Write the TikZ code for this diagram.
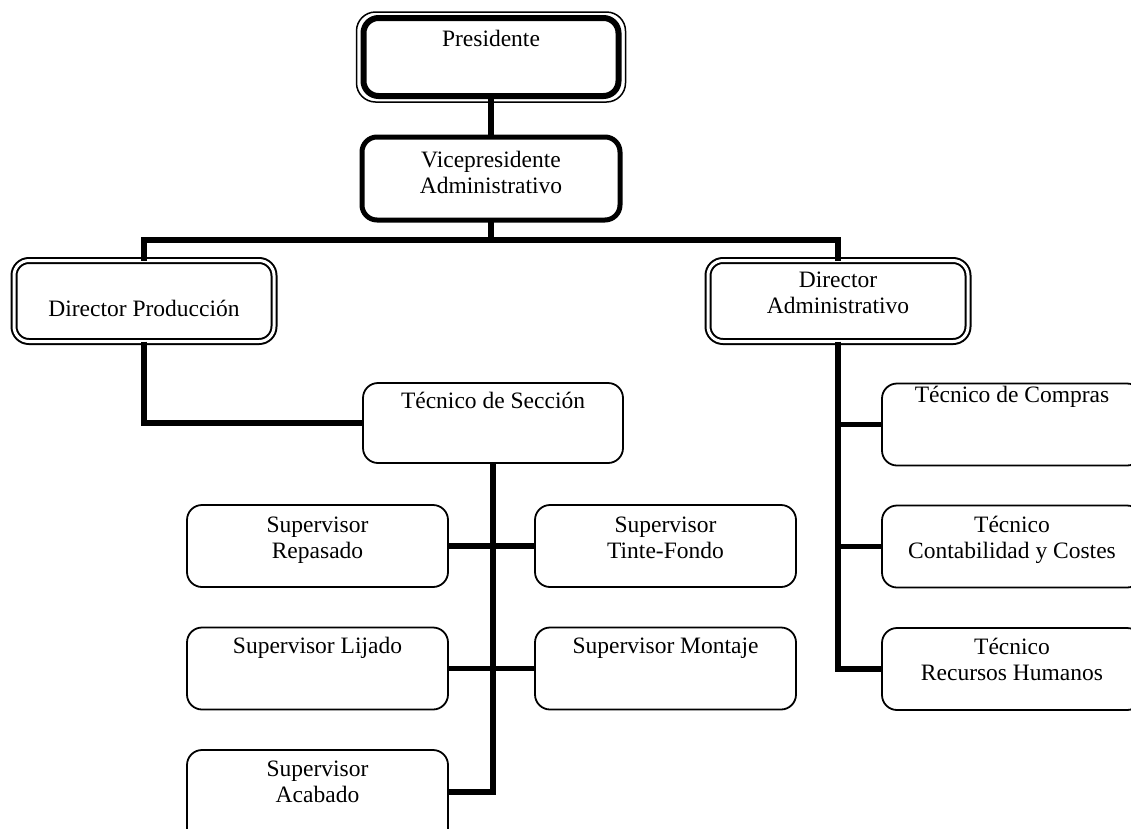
\documentclass[tikz,border=0pt]{standalone}
\usepackage{fontspec}
\setmainfont{Liberation Serif}
\begin{document}
\begin{tikzpicture}[x=1pt,y=-1pt,
  every node/.style={inner sep=0pt, outer sep=0pt},
  box/.style={draw, line width=1.8pt, rounded corners=15pt,
    minimum width=261pt, minimum height=82pt},
  topbox/.style={draw, line width=6pt, rounded corners=15pt,
    minimum width=255pt, minimum height=78pt},
  vpbox/.style={draw, line width=5pt, rounded corners=15pt,
    minimum width=258pt, minimum height=83pt},
  dirbox/.style={draw, double, line width=2pt, double distance=3pt,
    rounded corners=15pt, minimum width=260pt, minimum height=81pt},
  conn/.style={line width=5.5pt, line join=miter},
  lbl/.style={anchor=base, font=\fontsize{23.5}{26}\selectfont}]
\useasboundingbox (0,0) rectangle (1131,828);
\clip (0,0) rectangle (1131,828);

% boxes
\node[topbox] (pres) at (491,57) {};
\draw[line width=1.5pt, rounded corners=19pt]
  ([shift={(-7,-6)}]pres.north west) rectangle ([shift={(7,6)}]pres.south east);
\node[vpbox] (vp) at (491,178.5) {};
\node[dirbox] (dp) at (144,301) {};
\node[dirbox] (da) at (838,301) {};
\node[box, minimum width=260pt, minimum height=80pt] (ts) at (493,423) {};
\node[box] (srp) at (317.5,546) {};
\node[box] (slj) at (317.5,668.5) {};
\node[box, minimum height=110pt] (sac) at (317.5,805) {};
\node[box] (stf) at (665.5,546) {};
\node[box] (smo) at (665.5,668.5) {};
\node[box, minimum width=260pt] (tco) at (1012,424.5) {};
\node[box, minimum width=260pt] (tcc) at (1012,546.5) {};
\node[box, minimum width=260pt] (trh) at (1012,669) {};

% labels
\node[lbl] (pres-t) at (491,46) {Presidente};
\node[lbl] (vp-t) at (491,167) {\begin{tabular}[t]{@{}c@{}}Vicepresidente\\Administrativo\end{tabular}};
\node[lbl] (dp-t) at (144,316) {Director Producción};
\node[lbl] (da-t) at (838,287) {\begin{tabular}[t]{@{}c@{}}Director\\Administrativo\end{tabular}};
\node[lbl] (ts-t) at (493,408) {Técnico de Sección};
\node[lbl] (srp-t) at (317.5,532) {\begin{tabular}[t]{@{}c@{}}Supervisor\\Repasado\end{tabular}};
\node[lbl] (slj-t) at (317.5,653) {Supervisor Lijado};
\node[lbl] (sac-t) at (317.5,776) {\begin{tabular}[t]{@{}c@{}}Supervisor\\Acabado\end{tabular}};
\node[lbl] (stf-t) at (665.5,532) {\begin{tabular}[t]{@{}c@{}}Supervisor\\Tinte-Fondo\end{tabular}};
\node[lbl] (smo-t) at (665.5,653) {Supervisor Montaje};
\node[lbl] (tco-t) at (1012,402) {Técnico de Compras};
\node[lbl] (tcc-t) at (1012,532) {\begin{tabular}[t]{@{}c@{}}Técnico\\Contabilidad y Costes\end{tabular}};
\node[lbl] (trh-t) at (1012,654) {\begin{tabular}[t]{@{}c@{}}Técnico\\Recursos Humanos\end{tabular}};

% connectors
\coordinate (bar) at (491,240);
\coordinate (acab) at (317.5,792);
\draw[conn] (pres.south) -- (vp.north);
\draw[conn] (vp.south) -- (bar);
\draw[conn] (dp.north) |- (bar) -| (da.north);
\draw[conn] (dp.south) |- (ts.west);
\draw[conn] (ts.south) |- (sac.east |- acab);
\draw[conn] (srp.east) -- (stf.west);
\draw[conn] (slj.east) -- (smo.west);
\draw[conn] (da.south) |- (trh.west);
\draw[conn] (da.south |- tco.west) -- (tco.west);
\draw[conn] (da.south |- tcc.west) -- (tcc.west);
\end{tikzpicture}
\end{document}
